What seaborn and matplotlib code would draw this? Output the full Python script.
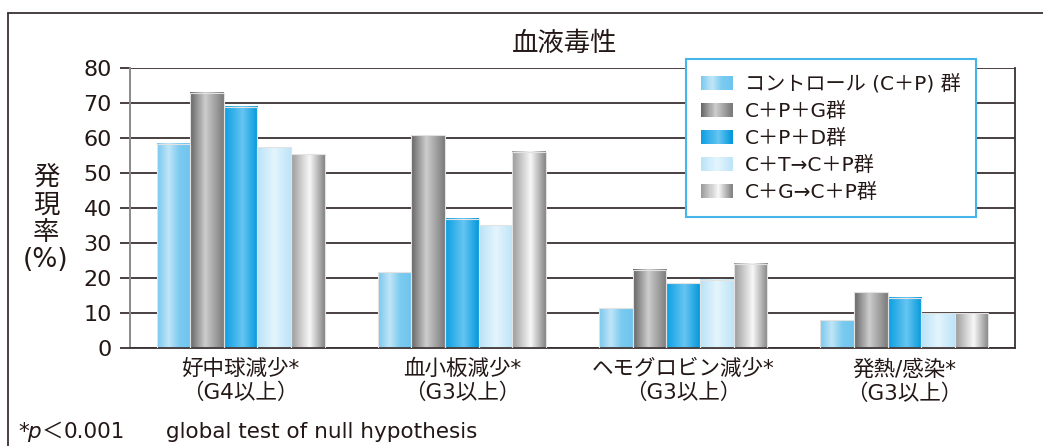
import numpy as np
import pandas as pd
import seaborn as sns
import matplotlib.pyplot as plt
from matplotlib.colors import LinearSegmentedColormap
from matplotlib.legend_handler import HandlerBase
from matplotlib.patches import Rectangle
from matplotlib.lines import Line2D

# データ (読み取り値)
categories = ['好中球減少*\n（G4以上）', '血小板減少*\n（G3以上）',
              'ヘモグロビン減少*\n（G3以上）', '発熱/感染*\n（G3以上）']
groups = ['コントロール (C＋P) 群', 'C＋P＋G群', 'C＋P＋D群', 'C＋T→C＋P群', 'C＋G→C＋P群']

control = [58.3, 21.6, 11.3, 8.0]
cpg = [73.0, 60.8, 22.3, 15.9]
cpd = [68.9, 36.9, 18.5, 14.4]
ct_cp = [57.3, 35.1, 19.5, 9.9]
cg_cp = [55.4, 56.1, 24.1, 9.9]

# グラデーション (左→右)
grad_stops = [
    [(0, '#78c8ef'), (0.35, '#c0e5f7'), (0.65, '#7ccbf0'), (1, '#6ec4ee')],
    [(0, '#646464'), (0.45, '#cdcdcd'), (1, '#7a7a7a')],
    [(0, '#0a9ee2'), (0.55, '#66c5f2'), (1, '#0398dc')],
    [(0, '#b8e2f7'), (0.5, '#e4f5fd'), (1, '#bde4f8')],
    [(0, '#999999'), (0.55, '#f8f8f8'), (1, '#838383')],
]
cmaps = [LinearSegmentedColormap.from_list(f'g{i}', s) for i, s in enumerate(grad_stops)]
mid_colors = [c(0.5) for c in cmaps]

df = pd.concat([
    pd.DataFrame({'cat': categories, 'val': vals, 'grp': g})
    for g, vals in zip(groups, [control, cpg, cpd, ct_cp, cg_cp])
], ignore_index=True)

sns.set_style('white')
plt.rcParams['font.family'] = ['DejaVu Sans', 'Noto Sans CJK JP']
dark = '#3a3232'
txt = '#231815'

fig = plt.figure(figsize=(10.43, 4.46), dpi=100)
ax = fig.add_axes([130 / 1043, 1 - 348 / 446, 885 / 1043, 280 / 446])

sns.barplot(data=df, x='cat', y='val', hue='grp', hue_order=groups, order=categories,
            palette=mid_colors, width=0.76, gap=0, edgecolor='#e2e2e2', linewidth=0.8,
            legend=False, ax=ax, zorder=3)

# 棒をグラデーションで塗る
grad = np.linspace(0, 1, 256).reshape(1, -1)
for cont, cmap in zip(ax.containers, cmaps):
    for bar in cont:
        x, w, h = bar.get_x(), bar.get_width(), bar.get_height()
        ax.imshow(grad, cmap=cmap, extent=[x, x + w, 0, h], aspect='auto',
                  interpolation='bilinear', zorder=2.5)
        bar.set_facecolor('none')

ax.set_xlim(-0.5, 3.5)
ax.set_ylim(0, 80)
ax.set_yticks(range(0, 81, 10))
ax.set_xlabel('')
ax.set_ylabel('')
ax.yaxis.grid(True, color=dark, linewidth=1.3)
ax.set_axisbelow(True)

ax.set_xticks(np.arange(-0.5, 3.6, 1), minor=True)
ax.tick_params(axis='x', which='major', length=0, pad=8, labelsize=15.5, colors=txt)
ax.tick_params(axis='x', which='minor', length=7, width=1.2, color=dark, direction='out')
ax.tick_params(axis='y', length=7, width=1.3, color=dark, pad=6, labelsize=16,
               labelcolor=txt, left=True)
for lab in ax.get_xticklabels():
    lab.set_linespacing(1.2)

ax.spines['top'].set_visible(False)
ax.spines['left'].set_color('#8a8a8a')
ax.spines['left'].set_linewidth(1.4)
ax.spines['bottom'].set_color(dark)
ax.spines['bottom'].set_linewidth(1.3)
ax.spines['right'].set_color(dark)
ax.spines['right'].set_linewidth(1.3)


# 凡例
class GradProxy(Rectangle):
    def __init__(self, cmap):
        super().__init__((0, 0), 1, 1)
        self.cmap = cmap


class GradHandler(HandlerBase):
    def create_artists(self, legend, orig_handle, xdescent, ydescent, width, height, fontsize, trans):
        n = 30
        arts = []
        for i in range(n):
            arts.append(Rectangle((-xdescent + i * width / n, -ydescent), width / n + 0.3, height,
                                  facecolor=orig_handle.cmap((i + 0.5) / n), edgecolor='none',
                                  transform=trans))
        return arts


proxies = [GradProxy(c) for c in cmaps]
leg = ax.legend(proxies, groups, handler_map={GradProxy: GradHandler()},
                loc='upper left', bbox_to_anchor=(686 / 1043, 1 - 59 / 446),
                bbox_transform=fig.transFigure, borderaxespad=0, fontsize=14.5,
                handlelength=1.55, handleheight=0.7, handletextpad=0.62,
                labelspacing=0.4, borderpad=0.75, fancybox=False, framealpha=1)
leg.get_frame().set_edgecolor('#45b5ea')
leg.get_frame().set_linewidth(1.5)
leg.set_zorder(5)
for t in leg.get_texts():
    t.set_color(txt)

# タイトル・軸ラベル・注記
fig.text(565 / 1043, 1 - 44 / 446, '血液毒性', ha='center', va='center', fontsize=19, color=txt)
fig.text(46 / 1043, 1 - 219 / 446, '発\n現\n率\n(%)', ha='center', va='center',
         fontsize=19, linespacing=1.08, color=txt)
note_y = 1 - 432 / 446
note_fs = 15.5
fig.text(18 / 1043, note_y, '*', ha='left', va='center', fontsize=note_fs, color=txt)
fig.text(27 / 1043, note_y, 'p', ha='left', va='center', fontsize=note_fs, style='italic', color=txt)
fig.text(42 / 1043, note_y, '＜', ha='left', va='center', fontsize=note_fs, color=txt)
fig.text(64 / 1043, note_y, '0.001', ha='left', va='center', fontsize=note_fs, color=txt)
fig.text(166 / 1043, note_y, 'global test of null hypothesis', ha='left', va='center',
         fontsize=note_fs, color=txt)

# 外枠
fig.add_artist(Line2D([8 / 1043, 1.0], [1 - 13 / 446, 1 - 13 / 446], color=dark, linewidth=1.3,
                      transform=fig.transFigure))
fig.add_artist(Line2D([8 / 1043, 8 / 1043], [0, 1 - 13 / 446], color=dark, linewidth=1.3,
                      transform=fig.transFigure))

fig.savefig('out.png', dpi=100)
